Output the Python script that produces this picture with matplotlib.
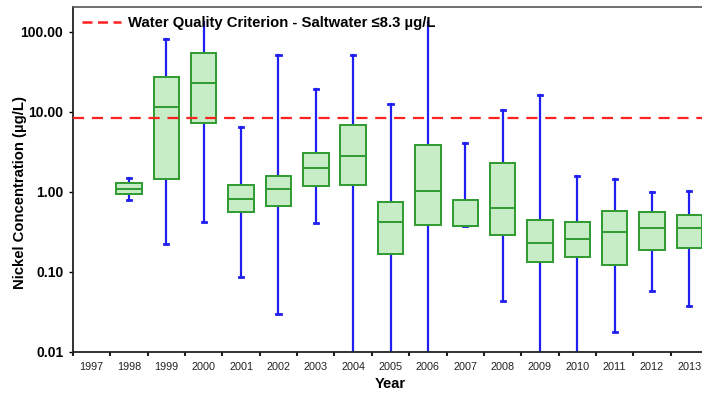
import matplotlib.pyplot as plt
import matplotlib.ticker as mticker
from matplotlib.lines import Line2D

plt.rcParams["font.family"] = ["Liberation Sans", "DejaVu Sans"]

# Nickel concentration (ug/L) box summaries per year; 1997 has no data
years = list(range(1997, 2014))
box_years = [1998, 1999, 2000, 2001, 2002, 2003, 2004, 2005, 2006, 2007,
             2008, 2009, 2010, 2011, 2012, 2013]
whis_lo = [0.79, 0.224, 0.42, 0.087, 0.030, 0.41, 0.001, 0.001, 0.001, 0.38,
           0.043, 0.001, 0.001, 0.018, 0.058, 0.038]
q1 = [0.94, 1.44, 7.2, 0.57, 0.67, 1.19, 1.23, 0.168, 0.39, 0.38,
      0.293, 0.132, 0.153, 0.121, 0.188, 0.198]
med = [1.10, 11.5, 23.0, 0.82, 1.10, 2.01, 2.79, 0.42, 1.02, 0.38,
       0.625, 0.228, 0.261, 0.319, 0.355, 0.352]
q3 = [1.31, 27.6, 54.0, 1.22, 1.58, 3.04, 6.8, 0.757, 3.83, 0.79,
      2.28, 0.447, 0.426, 0.579, 0.567, 0.511]
whis_hi = [1.48, 81.0, 135.0, 6.4, 51.0, 19.4, 52.0, 12.6, 135.0, 4.14,
           10.6, 16.2, 1.58, 1.45, 1.0, 1.02]
criterion = 8.3

stats = []
for i, yr in enumerate(box_years):
    stats.append({"whislo": whis_lo[i], "q1": q1[i], "med": med[i],
                  "q3": q3[i], "whishi": whis_hi[i], "fliers": []})

fig = plt.figure(figsize=(7.02, 3.94), dpi=100)
ax = fig.add_axes([0.104, 0.1066, 0.9046, 0.8756])

box_edge = "#2f9a2f"
whisk = "#1f1fef"
parts = ax.bxp(stats, positions=box_years, widths=0.68, patch_artist=True,
               showfliers=False,
               boxprops=dict(facecolor="#c6edc6", edgecolor=box_edge, linewidth=1.4, zorder=3),
               medianprops=dict(color=box_edge, linewidth=1.4, zorder=4),
               whiskerprops=dict(color=whisk, linewidth=1.6, zorder=2),
               capprops=dict(color=whisk, linewidth=2.0, zorder=2),
               capwidths=0.11)
# upper whiskers that run into the legend text show no cap
for i, hi in enumerate(whis_hi):
    if hi > 100:
        parts["caps"][2 * i + 1].set_visible(False)

ax.axhline(criterion, color="#ff2020", linestyle=(0, (5, 3.5)), linewidth=1.6, zorder=5)

ax.set_yscale("log")
ax.set_ylim(0.01, 205)
ax.set_xlim(1996.5, 2013.5)

ax.yaxis.set_major_locator(mticker.FixedLocator([0.01, 0.1, 1, 10, 100]))
ax.yaxis.set_major_formatter(mticker.FuncFormatter(lambda v, p: f"{v:.2f}"))
ax.yaxis.set_minor_locator(mticker.NullLocator())

# tick marks between years, labels at year centres
ax.set_xticks([y + 0.5 for y in years[:-1]] + [1996.5])
ax.set_xticklabels([])
ax.set_xticks(years, minor=True)
ax.set_xticklabels([str(y) for y in years], minor=True, fontsize=7.8, color="#222222")
ax.tick_params(axis="x", which="major", direction="out", length=3, width=1.5, color="#222222")
ax.tick_params(axis="x", which="minor", length=0, pad=7)
ax.tick_params(axis="y", direction="out", length=3, width=1, labelsize=10, pad=4)
for lab in ax.get_yticklabels():
    lab.set_fontweight("bold")

for side in ["left", "bottom"]:
    ax.spines[side].set_linewidth(1.3)
    ax.spines[side].set_color("#222222")
ax.spines["top"].set_color("#555555")
ax.spines["top"].set_linewidth(1.2)

ax.set_xlabel("Year", fontsize=10.5, fontweight="bold", labelpad=4)
ax.set_ylabel("Nickel Concentration (µg/L)", fontsize=10.7, fontweight="bold")
ax.yaxis.set_label_coords(-0.073, 0.463)

handle = Line2D([], [], color="#ff2020", linestyle=(0, (4, 2.2)), linewidth=1.8)
ax.legend([handle], ["Water Quality Criterion - Saltwater \u22648.3 \u00b5g/L"],
          loc="upper left", bbox_to_anchor=(-0.007, 1.012), frameon=False,
          handlelength=2.6, handletextpad=0.5,
          prop=dict(weight="bold", size=10.7))

fig.savefig("out.png", dpi=100)
